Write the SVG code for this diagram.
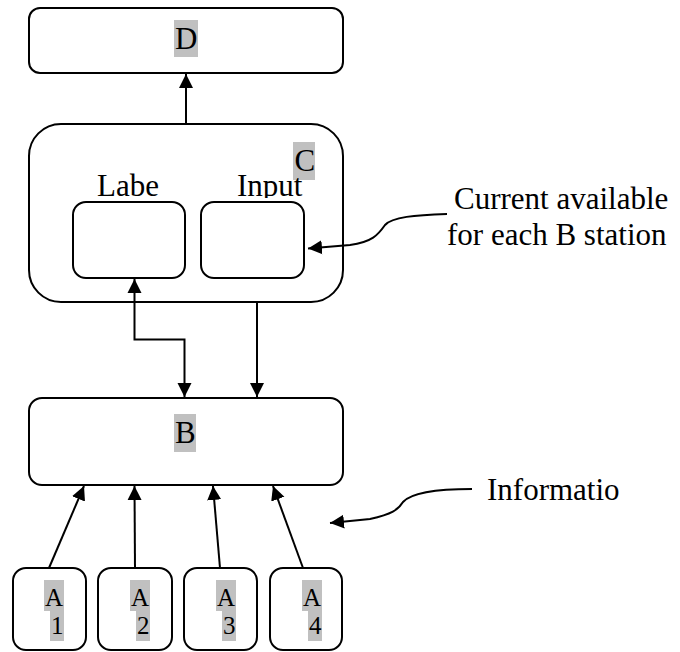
<svg xmlns="http://www.w3.org/2000/svg" width="680" height="652" viewBox="0 0 680 652">
<defs>
<style>
.box{fill:#ffffff;stroke:#000000;stroke-width:2}
.hl{fill:#c0c0c0}
.t{font-family:"Liberation Serif","Times New Roman",serif;font-size:31px;fill:#000000}
.ta{font-family:"Liberation Serif","Times New Roman",serif;font-size:25px;fill:#000000}
.ln{fill:none;stroke:#000000;stroke-width:2}
</style>
<marker id="ah" markerUnits="userSpaceOnUse" markerWidth="15" markerHeight="15" refX="14" refY="7" orient="auto-start-reverse" viewBox="0 0 15 14">
<path d="M0,0 L14,7 L0,14 z" fill="#000000"/>
</marker>
<clipPath id="clipInput"><rect x="220" y="150" width="100" height="48"/></clipPath>
</defs>
<rect width="680" height="652" fill="#ffffff"/>

<g id="D">
<rect class="box" x="29" y="8" width="314" height="65" rx="11"/>
<rect class="hl" x="174" y="20" width="24" height="37"/>
<text class="t" x="175" y="49">D</text>
</g>

<g id="C">
<rect class="box" x="29" y="124" width="314" height="178" rx="32"/>
<rect class="hl" x="293" y="142" width="22" height="38"/>
<text class="t" x="294.5" y="171">C</text>
<text class="t" x="97" y="196">Labe</text>
<text class="t" x="237" y="196" clip-path="url(#clipInput)">Input</text>
</g>

<g id="Label">
<rect class="box" x="73" y="202" width="112" height="76" rx="13"/>
</g>

<g id="Input">
<rect class="box" x="201" y="202" width="103" height="76" rx="13"/>
</g>

<g id="B">
<rect class="box" x="29" y="398" width="314" height="87" rx="13"/>
<rect class="hl" x="174" y="414" width="22" height="38"/>
<text class="t" x="175" y="443">B</text>
</g>

<g id="A1">
<rect class="box" x="13" y="568" width="73" height="82" rx="13"/>
<rect class="hl" x="44" y="580" width="20" height="31"/>
<rect class="hl" x="50" y="611" width="14" height="30"/>
<text class="ta" x="45" y="606">A</text>
<text class="ta" x="51" y="634">1</text>
</g>

<g id="A2">
<rect class="box" x="98" y="568" width="74" height="82" rx="13"/>
<rect class="hl" x="130" y="580" width="20" height="31"/>
<rect class="hl" x="136" y="611" width="14" height="30"/>
<text class="ta" x="131" y="606">A</text>
<text class="ta" x="137" y="634">2</text>
</g>

<g id="A3">
<rect class="box" x="184" y="568" width="73" height="82" rx="13"/>
<rect class="hl" x="216" y="580" width="20" height="31"/>
<rect class="hl" x="222" y="611" width="14" height="30"/>
<text class="ta" x="217" y="606">A</text>
<text class="ta" x="223" y="634">3</text>
</g>

<g id="A4">
<rect class="box" x="270" y="568" width="72" height="82" rx="13"/>
<rect class="hl" x="302" y="580" width="20" height="31"/>
<rect class="hl" x="308" y="611" width="14" height="30"/>
<text class="ta" x="303" y="606">A</text>
<text class="ta" x="309" y="634">4</text>
</g>

<g id="note-current">
<text class="t" x="454" y="209">Current available</text>
<text class="t" x="447" y="245">for each B station</text>
</g>

<g id="note-info">
<text class="t" x="487" y="500">Informatio</text>
</g>

<g id="connectors">
<line class="ln" x1="186" y1="124" x2="186" y2="74" marker-end="url(#ah)"/>
<line class="ln" x1="257" y1="302" x2="257" y2="397" marker-end="url(#ah)"/>
<path class="ln" d="M134.5 279 V339.5 H184.5 V397" marker-start="url(#ah)" marker-end="url(#ah)"/>
<line class="ln" x1="49" y1="568" x2="84" y2="486" marker-end="url(#ah)"/>
<line class="ln" x1="135" y1="568" x2="134.5" y2="486" marker-end="url(#ah)"/>
<line class="ln" x1="220" y1="568" x2="213" y2="486" marker-end="url(#ah)"/>
<line class="ln" x1="303" y1="568" x2="273" y2="486" marker-end="url(#ah)"/>
<path class="ln" d="M447 214 C415 215, 392 217, 385 225 C378 235, 372 242, 350 245 L308 248.5" marker-end="url(#ah)"/>
<path class="ln" d="M472 489 C440 489, 412 492, 403 502 C398 510, 392 514, 370 519 L330 523" marker-end="url(#ah)"/>
</g>
</svg>
